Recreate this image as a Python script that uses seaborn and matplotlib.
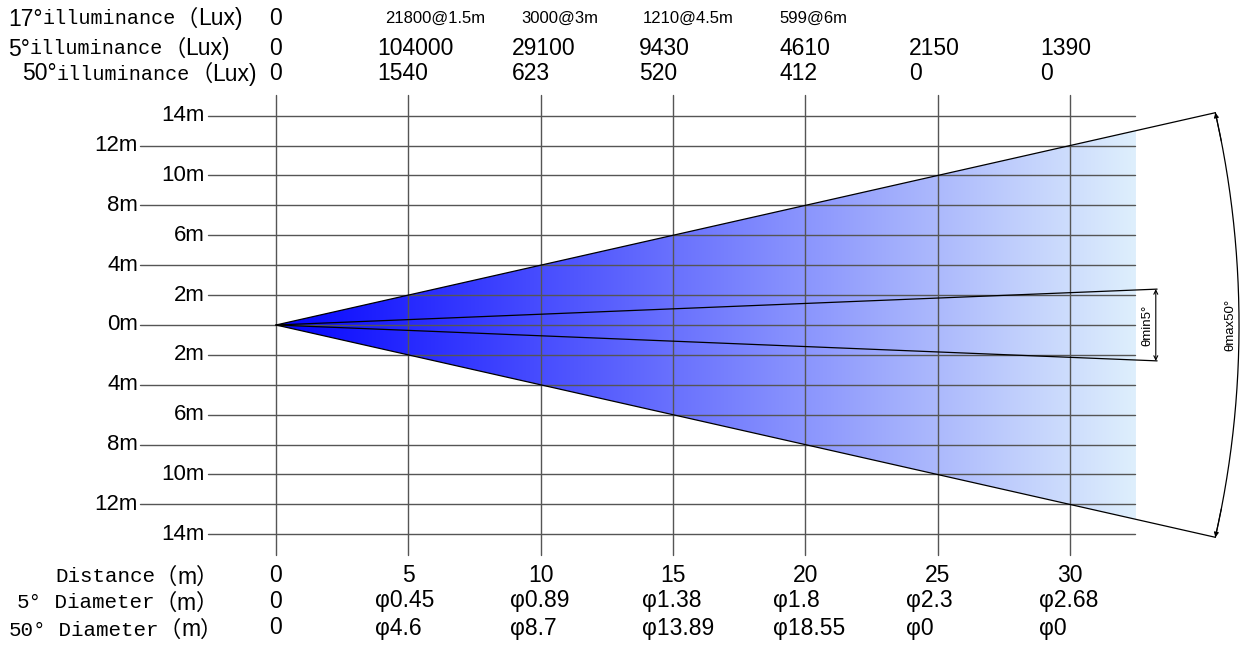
import numpy as np
import pandas as pd
import matplotlib
matplotlib.use("Agg")
import matplotlib.pyplot as plt
from matplotlib.patches import Polygon
import seaborn as sns

# ---------------- data ----------------
distances = [0, 5, 10, 15, 20, 25, 30]
ill17_labels = ["0", "21800@1.5m", "3000@3m", "1210@4.5m", "599@6m"]
ill5_values = [0, 104000, 29100, 9430, 4610, 2150, 1390]
ill50_values = [0, 1540, 623, 520, 412, 0, 0]
dia5_labels = ["0", "φ0.45", "φ0.89", "φ1.38", "φ1.8", "φ2.3", "φ2.68"]
dia50_labels = ["0", "φ4.6", "φ8.7", "φ13.89", "φ18.55", "φ0", "φ0"]
y_ticks = list(range(-14, 15, 2))
wide_edge_end = (35.5, 14.2)     # 50° beam edge end point (distance, half-width)
narrow_edge_end = (33.3, 2.4)    # 5° beam edge end point
cone_length = 32.5

# ---------------- layout helpers ----------------
W, H = 1242, 646
X0, SX = 276, 26.46
Y0, SY = 325, 14.95
def px2x(px): return (px - X0) / SX
def py2y(py): return (Y0 - py) / SY

SANS = "Liberation Sans"
MONO = "Liberation Mono"
CJK = "Noto Sans CJK SC"

sns.set_theme(style="white")
plt.rcParams["font.family"] = [SANS, "DejaVu Sans"]
plt.rcParams["text.color"] = "black"

fig = plt.figure(figsize=(W / 100, H / 100), dpi=100)
ax = fig.add_axes([0, 0, 1, 1])
ax.set_xlim(px2x(0), px2x(W))
ax.set_ylim(py2y(H), py2y(0))
ax.axis("off")

# ---------------- gradient cone ----------------
slope = wide_edge_end[1] / wide_edge_end[0]
hw = slope * cone_length
c0 = np.array([5, 5, 255]) / 255
c1 = np.array([222, 239, 252]) / 255
t = np.linspace(0, 1, 400)
grad = (c0[None, :] * (1 - t[:, None]) + c1[None, :] * t[:, None])[None, :, :]
im = ax.imshow(grad, extent=[0, cone_length, -hw, hw], aspect="auto",
               origin="lower", zorder=1, interpolation="bilinear")
poly = Polygon([[0, 0], [cone_length, hw], [cone_length, -hw]], closed=True,
               transform=ax.transData, facecolor="none", edgecolor="none")
ax.add_patch(poly)
im.set_clip_path(poly)

# ---------------- grid ----------------
grid_col = "#555555"
for y in y_ticks:
    indented = abs(y) % 4 == 2
    xs = px2x(208) if indented else px2x(140)
    ax.plot([xs, px2x(1135)], [y, y], color=grid_col, lw=1.0, zorder=2)
    ax.text(px2x(205) if indented else px2x(138), y, f"{abs(y)}m",
            ha="right", va="center", fontsize=16, family=SANS, zorder=3)
for d in distances:
    ax.plot([d, d], [py2y(95), py2y(555)], color=grid_col, lw=1.0, zorder=2)

# ---------------- beam lines (seaborn) ----------------
ex, ey = wide_edge_end
nx, ny = narrow_edge_end
beam = pd.DataFrame({
    "x": [0, ex, 0, ex, 0, nx, 0, nx],
    "y": [0, ey, 0, -ey, 0, ny, 0, -ny],
    "edge": ["w1", "w1", "w2", "w2", "n1", "n1", "n2", "n2"],
})
sns.lineplot(data=beam, x="x", y="y", units="edge", estimator=None,
             color="black", lw=0.9, ax=ax, zorder=4, sort=False, legend=False)

# narrow beam dimension
ax.annotate("", xy=(nx - 0.05, ny), xytext=(nx - 0.05, -ny),
            arrowprops=dict(arrowstyle="<->", color="black", lw=0.8,
                            mutation_scale=7, shrinkA=0, shrinkB=0), zorder=5)
ax.text(nx - 0.38, 0, "θmin5°", rotation=90, ha="center", va="center",
        fontsize=9.5, family=SANS, zorder=5)

# wide beam arc (circular in pixel space)
r_px = np.hypot(ex * SX, ey * SY)
a_max = np.arctan2(ey * SY, ex * SX)
ang = np.linspace(-a_max, a_max, 200)
ax.plot(r_px * np.cos(ang) / SX, r_px * np.sin(ang) / SY, color="black", lw=0.9, zorder=5)
for sgn in (1, -1):
    a_in = sgn * (a_max - 0.03)
    ax.annotate("", xy=(r_px * np.cos(sgn * a_max) / SX, sgn * ey),
                xytext=(r_px * np.cos(a_in) / SX, r_px * np.sin(a_in) / SY),
                arrowprops=dict(arrowstyle="-|>", color="black", lw=0.8,
                                mutation_scale=7, shrinkA=0, shrinkB=0), zorder=5)
ax.text(px2x(1230), 0, "θmax50°", rotation=90, ha="center", va="center",
        fontsize=9.5, family=SANS, zorder=5)

# ---------------- row labels (chained mixed fonts) ----------------
def chain(x_px, y_img, pieces):
    prev = None
    for txt, fam, size in pieces:
        if prev is None:
            prev = ax.annotate(txt, xy=(x_px, H - y_img), xycoords="figure pixels",
                               ha="left", va="center", family=fam, fontsize=size)
        else:
            prev = ax.annotate(txt, xy=(1, 0.5), xycoords=prev,
                               ha="left", va="center", family=fam, fontsize=size)

chain(8, 19, [("17°", SANS, 16.5), ("illuminance", MONO, 14.5), ("（", CJK, 16), ("Lux)", SANS, 16.5)])
chain(8, 49, [("5°", SANS, 16.5), ("illuminance", MONO, 14.5), ("（", CJK, 16), ("Lux)", SANS, 16.5)])
chain(22, 74, [("50°", SANS, 16.5), ("illuminance", MONO, 14.5), ("（", CJK, 16), ("Lux)", SANS, 16.5)])

chain(55, 577, [("Distance", MONO, 15), ("（", CJK, 16), ("m", SANS, 16.5), ("）", CJK, 16)])
chain(17, 603, [("5°", MONO, 15), (" Diameter", MONO, 15), ("（", CJK, 16), ("m", SANS, 16.5), ("）", CJK, 16)])
chain(9, 630, [("50°", MONO, 15), (" Diameter", MONO, 15), ("（", CJK, 16), ("m", SANS, 16.5), ("）", CJK, 16)])

# ---------------- values ----------------
top_left_px = [377, 512, 639, 779, 909, 1040]
ill17_left_px = [385, 521, 643, 779]
diam_left_px = [375, 510, 642, 773, 906, 1039]

ax.text(0, py2y(19), ill17_labels[0], ha="center", va="center", fontsize=16.5, family=SANS)
for lbl, px in zip(ill17_labels[1:], ill17_left_px):
    ax.text(px2x(px), py2y(18), lbl, ha="left", va="center", fontsize=12, family=SANS)

for row_vals, yy in ((ill5_values, 49), (ill50_values, 74)):
    ax.text(0, py2y(yy), str(row_vals[0]), ha="center", va="center", fontsize=16.5, family=SANS)
    for v, px in zip(row_vals[1:], top_left_px):
        ax.text(px2x(px), py2y(yy), str(v), ha="left", va="center", fontsize=16.5, family=SANS)

for d in distances:
    ax.text(d, py2y(575), str(d), ha="center", va="center", fontsize=16.5, family=SANS)
for row_lbls, yy in ((dia5_labels, 601), (dia50_labels, 628)):
    ax.text(0, py2y(yy), row_lbls[0], ha="center", va="center", fontsize=16.5, family=SANS)
    for lbl, px in zip(row_lbls[1:], diam_left_px):
        ax.text(px2x(px), py2y(yy), lbl, ha="left", va="center", fontsize=16.5, family=SANS)

fig.savefig("out.png", dpi=100)
